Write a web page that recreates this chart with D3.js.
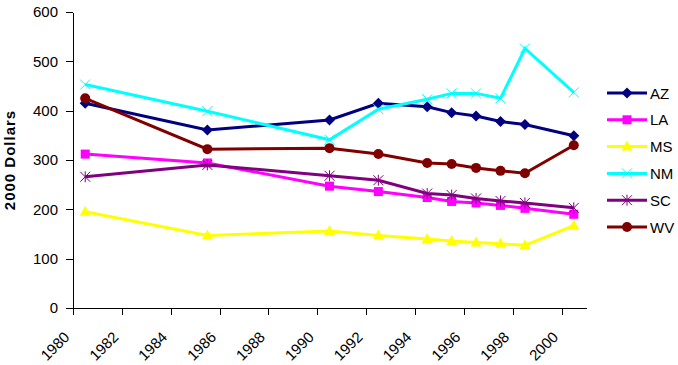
<!DOCTYPE html>
<html lang="en">
<head>
    <meta charset="UTF-8">
    <title>2000 Dollars by State</title>
    <style type="text/css">
        body {
            margin: 0;
            background-color: #fff;
            font-family: 'Liberation Sans', Arial, sans-serif;
        }
        .axis path,
        .axis line {
            fill: none;
            stroke: #000;
            shape-rendering: crispEdges;
        }
        .axis text {
            font-family: 'Liberation Sans', Arial, sans-serif;
            font-size: 15px;
            fill: #000;
        }
    </style>
</head>
<body>
<div id="chart"></div>
<script type="text/javascript" src="https://cdn.jsdelivr.net/npm/d3@7"></script>
<script type="text/javascript">
    // survey years (points sit at mid-year on the time axis)
    var years = [1980, 1985, 1990, 1992, 1994, 1995, 1996, 1997, 1998, 2000];

    var AZ = [415, 361, 381, 415, 408, 396, 389, 378, 372, 349];
    var LA = [312, 294, 247, 236, 224, 216, 213, 208, 202, 190];
    var MS = [195, 147, 156, 147, 140, 136, 133, 130, 127, 167];
    var NM = [453, 399, 341, 403, 423, 435, 435, 425, 526, 437];
    var SC = [266, 290, 268, 259, 232, 229, 222, 217, 213, 203];
    var WV = [425, 322, 324, 312, 294, 292, 284, 278, 273, 330];

    var seriesNames = ["AZ", "LA", "MS", "NM", "SC", "WV"];
    var seriesValues = [AZ, LA, MS, NM, SC, WV];
    var colors = ["#000080", "#ff00ff", "#ffff00", "#00ffff", "#800080", "#800000"];
    var markers = ["diamond", "square", "triangle", "x", "star", "circle"];

    var xTicks = [1980, 1982, 1984, 1986, 1988, 1990, 1992, 1994, 1996, 1998, 2000];
    var yTicks = [0, 100, 200, 300, 400, 500, 600];

    var W = 678, H = 365;
    var margin = {top: 12, left: 73, right: 92, bottom: 57};
    var width = W - margin.left - margin.right,
        height = H - margin.top - margin.bottom;

    var x = d3.scaleLinear().domain([1980, 2001]).range([0, width]);
    var y = d3.scaleLinear().domain([0, 600]).range([height, 0]);

    var svg = d3.select("#chart").append("svg")
        .attr("width", W)
        .attr("height", H);

    var g = svg.append("g")
        .attr("transform", "translate(" + margin.left + "," + margin.top + ")");

    // axes
    g.append("g")
        .attr("class", "axis")
        .call(d3.axisLeft(y).tickValues(yTicks).tickSize(7).tickSizeOuter(0).tickPadding(8));

    var xAxis = g.append("g")
        .attr("class", "axis")
        .attr("transform", "translate(0," + height + ")")
        .call(d3.axisBottom(x).tickValues(xTicks).tickFormat(d3.format("d")).tickSize(7).tickSizeOuter(0));

    xAxis.selectAll("text")
        .attr("text-anchor", "end")
        .attr("dy", null)
        .attr("y", 0)
        .attr("transform", "translate(-3,30) rotate(-45)");

    svg.append("text")
        .attr("transform", "translate(15," + (margin.top + height / 2) + ") rotate(-90)")
        .attr("text-anchor", "middle")
        .style("font-size", "15px")
        .style("font-weight", "bold")
        .style("letter-spacing", "1px")
        .text("2000 Dollars");

    function drawMarker(sel, type, color) {
        if (type === "diamond") {
            sel.append("path").attr("d", "M0,-5.5L5.5,0L0,5.5L-5.5,0Z").attr("fill", color);
        } else if (type === "square") {
            sel.append("rect").attr("x", -4.5).attr("y", -4.5).attr("width", 9).attr("height", 9).attr("fill", color);
        } else if (type === "triangle") {
            sel.append("path").attr("d", "M0,-6L5.5,4L-5.5,4Z").attr("fill", color);
        } else if (type === "x") {
            sel.append("path").attr("d", "M-5,-5L5,5M5,-5L-5,5").attr("stroke", color).attr("stroke-width", 1).attr("fill", "none");
        } else if (type === "star") {
            sel.append("path").attr("d", "M-5,-5L5,5M5,-5L-5,5M0,-5.5L0,5.5").attr("stroke", color).attr("stroke-width", 1).attr("fill", "none");
        } else if (type === "circle") {
            sel.append("circle").attr("r", 5).attr("fill", color);
        }
    }

    var line = d3.line()
        .x(function (d) { return x(d.year + 0.5); })
        .y(function (d) { return y(d.value); });

    seriesNames.forEach(function (name, i) {
        var pts = years.map(function (yr, j) {
            return {year: yr, value: seriesValues[i][j]};
        });
        var sg = g.append("g").attr("class", "series");
        sg.append("path")
            .datum(pts)
            .attr("fill", "none")
            .attr("stroke", colors[i])
            .attr("stroke-width", 3)
            .attr("d", line);
        sg.selectAll(".mk")
            .data(pts)
            .enter().append("g")
            .attr("class", "mk")
            .attr("transform", function (d) {
                return "translate(" + x(d.year + 0.5) + "," + y(d.value) + ")";
            })
            .each(function () {
                drawMarker(d3.select(this), markers[i], colors[i]);
            });
    });

    // legend
    var legend = svg.append("g").attr("transform", "translate(607,93)");
    seriesNames.forEach(function (name, i) {
        var row = legend.append("g").attr("transform", "translate(0," + (i * 26.8) + ")");
        row.append("line")
            .attr("x1", 0).attr("x2", 40)
            .attr("stroke", colors[i]).attr("stroke-width", 3);
        var m = row.append("g").attr("transform", "translate(20,0)");
        drawMarker(m, markers[i], colors[i]);
        row.append("text")
            .attr("x", 43)
            .attr("y", 5.5)
            .style("font-size", "15px")
            .text(name);
    });
</script>
</body>
</html>
